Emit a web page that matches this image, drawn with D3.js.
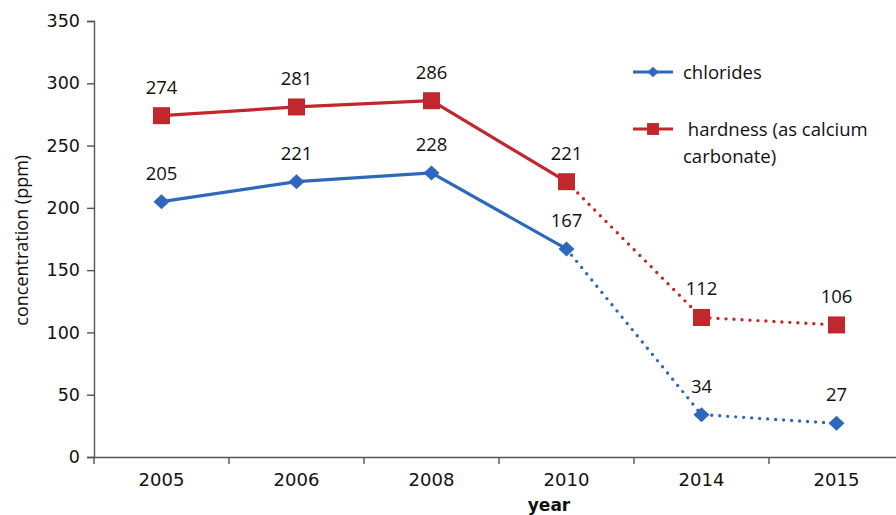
<!DOCTYPE html>
<html>
<head>
<meta charset="utf-8">
<script src="https://cdn.jsdelivr.net/npm/d3@7"></script>
<style>
  body { margin: 0; background: #fff; }
  svg { display: block; }
</style>
</head>
<body>
<script>
// data
const years = ['2005', '2006', '2008', '2010', '2014', '2015'];
const chlorides = [205, 221, 228, 167, 34, 27];
const hardness = [274, 281, 286, 221, 112, 106];
const yTicks = [0, 50, 100, 150, 200, 250, 300, 350];
const solidUpTo = 3; // index of 2010, dotted afterwards

const width = 896, height = 515;
const margin = {left: 94, top: 21, bottom: 58};

const svg = d3.select('body').append('svg')
  .attr('width', width)
  .attr('height', height);

const x = d3.scaleBand()
  .domain(years)
  .range([margin.left, margin.left + 135 * years.length]);

const y = d3.scaleLinear()
  .domain([0, 350])
  .range([height - margin.bottom, margin.top]);

const axisColor = '#555';
const tickFont = '"DejaVu Sans", Verdana, sans-serif';
const labelFont = '"Open Sans", sans-serif';

// y axis
const yAxis = svg.append('g')
  .attr('transform', `translate(${margin.left},0)`)
  .call(d3.axisLeft(y).tickValues(yTicks).tickSize(7).tickPadding(7));
yAxis.select('.domain').attr('stroke', axisColor).attr('stroke-width', 1.4);
yAxis.selectAll('.tick line').attr('stroke', axisColor).attr('stroke-width', 1.4);
yAxis.selectAll('.tick text')
  .attr('font-family', tickFont)
  .attr('font-size', 17.5).attr('fill', '#111');

// x axis, ticks sit between categories
const xAxis = svg.append('g')
  .attr('transform', `translate(0,${y(0)})`)
  .call(d3.axisBottom(x).tickSize(0).tickPadding(16).tickSizeOuter(0));
xAxis.select('.domain').attr('stroke', axisColor).attr('stroke-width', 1.4);
xAxis.selectAll('.tick text')
  .attr('font-family', tickFont)
  .attr('font-size', 18).attr('fill', '#111');
xAxis.selectAll('.sep')
  .data(years)
  .enter().append('line')
  .attr('x1', d => x(d)).attr('x2', d => x(d))
  .attr('y1', 0).attr('y2', 7)
  .attr('stroke', axisColor).attr('stroke-width', 1.4);

// axis titles
svg.append('text')
  .attr('transform', `translate(28,${y(174)}) rotate(-90)`)
  .attr('text-anchor', 'middle')
  .attr('font-family', labelFont)
  .attr('font-size', 18).attr('fill', '#111')
  .text('concentration (ppm)');

svg.append('text')
  .attr('x', 549).attr('y', 511)
  .attr('text-anchor', 'middle')
  .attr('font-family', tickFont)
  .attr('font-weight', 'bold')
  .attr('font-size', 17).attr('fill', '#111')
  .text('year');

const cx = d => x(d) + x.bandwidth() / 2;

const series = [
  {name: 'chlorides', values: chlorides, color: '#2e68bd', marker: 'diamond'},
  {name: 'hardness', values: hardness, color: '#c1272d', marker: 'square'}
];

const line = d3.line().x(d => cx(d.year)).y(d => y(d.v));

function drawMarker(g, type, color, s) {
  if (type === 'diamond') {
    const w = 8 * s, h = 7.5 * s;
    g.append('path')
      .attr('d', `M0,${-h}L${w},0L0,${h}L${-w},0Z`)
      .attr('fill', color);
  } else {
    const a = 8.5 * s;
    g.append('rect')
      .attr('x', -a).attr('y', -a)
      .attr('width', 2 * a).attr('height', 2 * a)
      .attr('fill', color);
  }
}

series.forEach(s => {
  const pts = years.map((yr, i) => ({year: yr, v: s.values[i]}));
  svg.append('path')
    .attr('d', line(pts.slice(0, solidUpTo + 1)))
    .attr('fill', 'none')
    .attr('stroke', s.color)
    .attr('stroke-width', 3.2);
  svg.append('path')
    .attr('d', line(pts.slice(solidUpTo)))
    .attr('fill', 'none')
    .attr('stroke', s.color)
    .attr('stroke-width', 3.4)
    .attr('stroke-linecap', 'round')
    .attr('stroke-dasharray', '0 8');

  pts.forEach(p => {
    const g = svg.append('g')
      .attr('transform', `translate(${cx(p.year)},${y(p.v)})`);
    drawMarker(g, s.marker, s.color, 1);
  });

  svg.selectAll('.lbl-' + s.name)
    .data(pts)
    .enter().append('text')
    .attr('x', d => cx(d.year))
    .attr('y', d => y(d.v) - 22)
    .attr('text-anchor', 'middle')
    .attr('font-family', labelFont)
    .attr('font-size', 18.5).attr('fill', '#111')
    .text(d => d.v);
});

// legend
const legend = svg.append('g').attr('transform', 'translate(633,0)');
const legendRows = [
  {lines: ['chlorides'], y: 72, dx: 50},
  {lines: [' hardness (as calcium', 'carbonate)'], y: 129, dx: 50}
];
legendRows.forEach((r, i) => {
  const s = series[i];
  legend.append('line')
    .attr('x1', 0).attr('x2', 40)
    .attr('y1', r.y).attr('y2', r.y)
    .attr('stroke', s.color).attr('stroke-width', 3.2);
  const g = legend.append('g').attr('transform', `translate(20,${r.y})`);
  drawMarker(g, s.marker, s.color, 0.7);
  const t = legend.append('text')
    .attr('x', r.dx).attr('y', r.y + 7)
    .attr('font-family', labelFont)
    .attr('font-size', 18.5).attr('fill', '#111')
    .attr('xml:space', 'preserve')
    .style('white-space', 'pre');
  r.lines.forEach((ln, j) => {
    t.append('tspan')
      .attr('x', r.dx)
      .attr('dy', j === 0 ? 0 : 27)
      .text(ln);
  });
});
</script>
</body>
</html>
